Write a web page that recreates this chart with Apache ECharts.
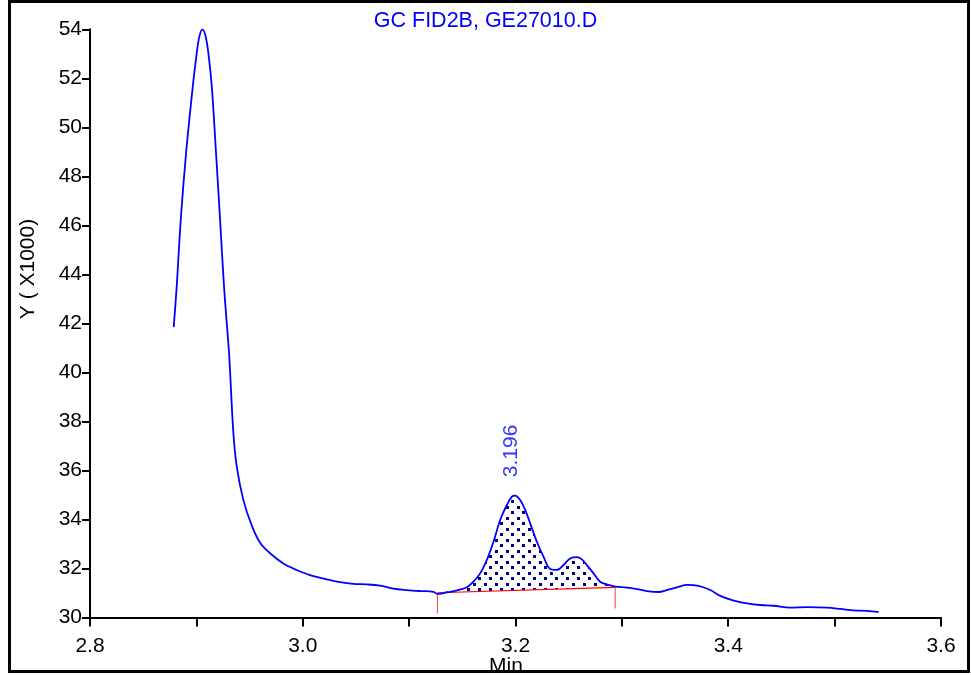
<!DOCTYPE html>
<html>
<head>
<meta charset="utf-8">
<script src="https://cdn.jsdelivr.net/npm/echarts@6/dist/echarts.min.js"></script>
<style>
  html, body { margin: 0; padding: 0; background: #fff; }
  #main { width: 971px; height: 675px; }
</style>
</head>
<body>
<div id="main"></div>
<script>
// retention time (min) and detector signal (x1000)
var times = [2.8787, 2.8815, 2.8853, 2.8903, 2.8966, 2.9003, 2.9028, 2.9056, 2.9085, 2.9113,
  2.9145, 2.9185, 2.9223, 2.9260, 2.9298, 2.9310, 2.9348, 2.9380, 2.9442, 2.9521,
  2.9599, 2.9693, 2.9818, 2.9944, 3.0069, 3.0226, 3.0351, 3.0476, 3.0602, 3.0727,
  3.0852, 3.0978, 3.1103, 3.1229, 3.1266, 3.1355, 3.1386, 3.1496, 3.1543, 3.1605,
  3.1668, 3.1731, 3.1793, 3.1856, 3.1919, 3.1966, 3.1997, 3.2044, 3.2091, 3.2138,
  3.2201, 3.2263, 3.2326, 3.2389, 3.2451, 3.2514, 3.2577, 3.2624, 3.2671, 3.2733,
  3.2796, 3.2874, 3.2937, 3.3047, 3.3141, 3.3236, 3.3345, 3.3424, 3.3518, 3.3612,
  3.3721, 3.3831, 3.3925, 3.4050, 3.4176, 3.4301, 3.4426, 3.4583, 3.4740, 3.4928,
  3.5053, 3.5179, 3.5304, 3.5414];
var signal = [41.85, 43.50, 46.22, 48.94, 51.66, 53.02, 53.70, 54.00, 53.75, 53.02,
  51.66, 48.94, 46.22, 43.50, 41.32, 40.60, 37.52, 36.15, 34.79, 33.75,
  33.05, 32.62, 32.20, 31.94, 31.73, 31.56, 31.44, 31.37, 31.35, 31.30,
  31.18, 31.12, 31.08, 31.05, 30.96, 31.03, 31.05, 31.16, 31.23, 31.46,
  31.80, 32.35, 33.09, 33.98, 34.59, 34.93, 34.97, 34.79, 34.39, 33.84,
  33.09, 32.48, 31.98, 31.94, 32.14, 32.41, 32.46, 32.37, 32.14, 31.80,
  31.46, 31.33, 31.26, 31.22, 31.16, 31.08, 31.04, 31.12, 31.23, 31.33,
  31.29, 31.12, 30.88, 30.69, 30.58, 30.51, 30.48, 30.40, 30.42, 30.40,
  30.35, 30.29, 30.27, 30.22];

// integration baseline
var baseT = [3.1266, 3.2937];
var baseY = [31.01, 31.23];
var dropY = [30.17, 30.37];

// peak annotation
var peakT = 3.196;
var peakY = 34.95;
var peakText = '3.196';

var chart = echarts.init(document.getElementById('main'));

var curve = times.map(function (t, i) { return [t, signal[i]]; });

// dotted hatch used for the integrated area
var pat = document.createElement('canvas');
pat.width = 11;
pat.height = 11;
var pctx = pat.getContext('2d');
pctx.fillStyle = '#000080';
pctx.fillRect(0, 0, 3, 3);
pctx.fillRect(5, 5, 3, 3);

var font = 'Liberation Sans';

option = {
    backgroundColor: '#fff',
    animation: false,
    title: {
        text: 'GC FID2B, GE27010.D',
        left: 'center',
        top: 5,
        textStyle: { color: '#0000ff', fontSize: 21.5, fontWeight: 'normal', fontFamily: font }
    },
    grid: { left: 90, right: 30, top: 29.3, bottom: 57.5 },
    xAxis: {
        type: 'value',
        min: 2.8,
        max: 3.6,
        interval: 0.1,
        axisLine: { lineStyle: { color: '#000', width: 2 } },
        axisTick: { length: 9, lineStyle: { color: '#000', width: 2 } },
        splitLine: { show: false },
        axisLabel: {
            color: '#000',
            fontSize: 21,
            fontFamily: font,
            margin: 18,
            formatter: function (v) {
                return Math.round(v * 10) % 2 === 0 ? v.toFixed(1) : '';
            }
        }
    },
    yAxis: {
        type: 'value',
        min: 30,
        max: 54,
        interval: 2,
        axisLine: { show: true, lineStyle: { color: '#000', width: 2 } },
        axisTick: { show: true, length: 8, lineStyle: { color: '#000', width: 2 } },
        splitLine: { show: false },
        axisLabel: {
            color: '#000',
            fontSize: 21,
            fontFamily: font,
            margin: 8,
            padding: [9, 0, 0, 0]
        }
    },
    graphic: [{
        type: 'text',
        x: 28,
        y: 269,
        rotation: Math.PI / 2,
        style: {
            text: 'Y ( X1000)',
            fill: '#000',
            font: '21px "Liberation Sans"',
            align: 'center',
            verticalAlign: 'middle'
        }
    }, {
        type: 'text',
        x: 506,
        y: 656,
        style: {
            text: 'Min',
            fill: '#000',
            font: '21px "Liberation Sans"',
            align: 'center',
            verticalAlign: 'top'
        }
    }, {
        type: 'rect',
        z: 100,
        shape: { x: 9.5, y: 1.5, width: 959, height: 670 },
        style: { fill: 'none', stroke: '#000', lineWidth: 3 }
    }],
    series: [{
        type: 'custom',
        z: 1,
        data: [0],
        silent: true,
        renderItem: function (params, api) {
            var pts = [];
            for (var i = 0; i < times.length; i++) {
                if (times[i] >= baseT[0] && times[i] <= baseT[1]) {
                    pts.push(api.coord([times[i], signal[i]]));
                }
            }
            pts.push(api.coord([baseT[1], baseY[1]]));
            pts.push(api.coord([baseT[0], baseY[0]]));
            return {
                type: 'polygon',
                shape: { points: pts },
                style: { fill: { image: pat, repeat: 'repeat' }, stroke: 'none' }
            };
        }
    }, {
        type: 'line',
        z: 3,
        data: curve,
        symbol: 'none',
        smooth: 0.35,
        lineStyle: { color: '#0000ff', width: 1.8 }
    }, {
        type: 'line',
        z: 2,
        data: [[baseT[0], baseY[0]], [baseT[1], baseY[1]]],
        symbol: 'none',
        lineStyle: { color: '#ff0000', width: 1.2 }
    }, {
        type: 'line',
        z: 2,
        data: [[baseT[0], baseY[0]], [baseT[0], dropY[0]]],
        symbol: 'none',
        lineStyle: { color: '#ff4040', width: 1 }
    }, {
        type: 'line',
        z: 2,
        data: [[baseT[1], baseY[1]], [baseT[1], dropY[1]]],
        symbol: 'none',
        lineStyle: { color: '#ff4040', width: 1 }
    }, {
        type: 'scatter',
        z: 4,
        data: [[peakT, peakY]],
        symbolSize: 0,
        label: {
            show: true,
            position: 'top',
            distance: 19,
            rotate: 90,
            align: 'left',
            verticalAlign: 'middle',
            color: '#0000ff',
            fontSize: 21,
            fontFamily: font,
            formatter: peakText
        }
    }]
};

chart.setOption(option);
</script>
</body>
</html>
